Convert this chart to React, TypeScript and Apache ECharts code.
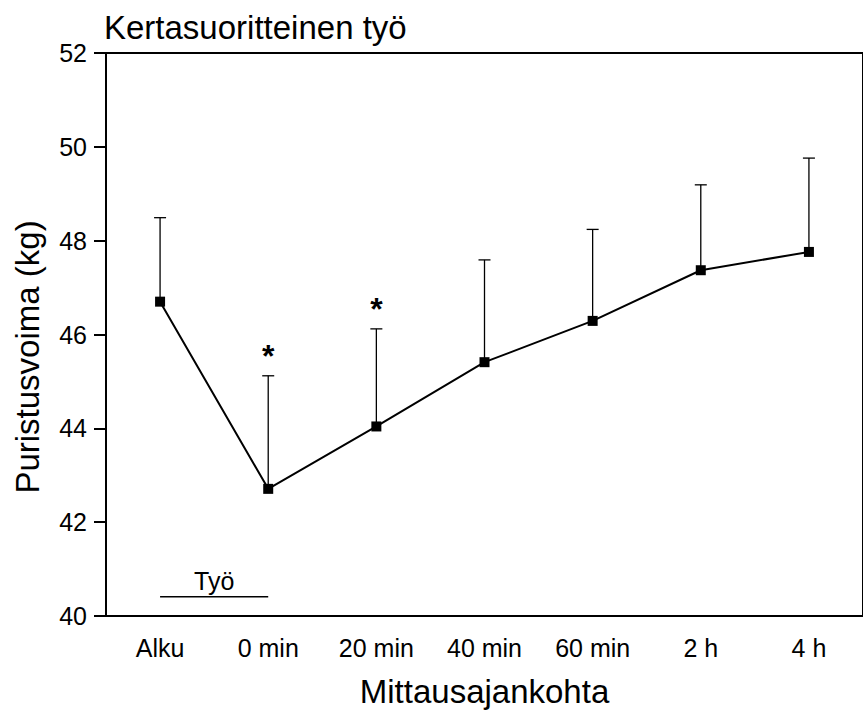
import React, { useEffect, useRef } from "react";
import * as echarts from "echarts";

// Mittausajankohdat ja puristusvoiman keskiarvot (kg) keskihajontoineen
const categories = ["Alku", "0 min", "20 min", "40 min", "60 min", "2 h", "4 h"];
const means = [46.7, 42.71, 44.04, 45.41, 46.29, 47.37, 47.76];
const sds = [1.79, 2.41, 2.08, 2.18, 1.95, 1.82, 2.0];
const significant = [false, true, true, false, false, false, false];

// Työjakso: alkumittauksesta 0 min -mittaukseen
const workLabel = "Työ";
const workSpan = [0, 1];
const workLevel = 40.41;

const yTicks = { min: 40, max: 52, interval: 2 };

const FONT = "'Liberation Sans', Arial, Helvetica, sans-serif";

export default function App() {
  const ref = useRef<HTMLDivElement>(null);

  useEffect(() => {
    if (!ref.current) return;
    const chart = echarts.init(ref.current, null, { renderer: "svg" });

    const errData = means.map((m, i) => [i, m, sds[i], significant[i] ? 1 : 0]);

    chart.setOption({
      animation: false,
      backgroundColor: "#ffffff",
      textStyle: { fontFamily: FONT, color: "#000" },
      grid: {
        left: 106,
        top: 53,
        width: 766,
        height: 564,
        show: true,
        borderColor: "#000",
        borderWidth: 2,
        containLabel: false,
      },
      graphic: [
        {
          type: "text",
          x: 104,
          y: 27,
          style: {
            text: "Kertasuoritteinen työ",
            fontSize: 33,
            fontFamily: FONT,
            fill: "#000",
            align: "left",
            verticalAlign: "middle",
          },
        },
        {
          type: "text",
          x: 27,
          y: 357,
          rotation: Math.PI / 2,
          style: {
            text: "Puristusvoima (kg)",
            fontSize: 33,
            fontFamily: FONT,
            fill: "#000",
            align: "center",
            verticalAlign: "middle",
          },
        },
      ],
      xAxis: {
        type: "category",
        data: categories,
        boundaryGap: true,
        name: "Mittausajankohta",
        nameLocation: "middle",
        nameGap: 59,
        nameTextStyle: { fontSize: 33, fontFamily: FONT, color: "#000" },
        axisLine: { lineStyle: { color: "#000", width: 2 } },
        axisTick: { alignWithLabel: true, length: 11, lineStyle: { color: "#000", width: 2 } },
        axisLabel: { fontSize: 25, fontFamily: FONT, color: "#000", margin: 19 },
        splitLine: { show: false },
      },
      yAxis: {
        type: "value",
        min: yTicks.min,
        max: yTicks.max,
        interval: yTicks.interval,
        axisLine: { show: true, lineStyle: { color: "#000", width: 2 } },
        axisTick: { show: true, length: 12, lineStyle: { color: "#000", width: 2 } },
        axisLabel: { fontSize: 25, fontFamily: FONT, color: "#000", margin: 19 },
        splitLine: { show: false },
      },
      series: [
        {
          type: "custom",
          name: "sd",
          data: errData,
          z: 1,
          encode: { x: 0, y: 1 },
          renderItem: (params: any, api: any) => {
            const i = api.value(0);
            const m = api.value(1);
            const s = api.value(2);
            const star = api.value(3);
            const base = api.coord([i, m]);
            const top = api.coord([i, m + s]);
            const capHalf = 6;
            const children: any[] = [
              {
                type: "line",
                shape: { x1: base[0], y1: base[1], x2: top[0], y2: top[1] },
                style: { stroke: "#000", lineWidth: 1.3 },
              },
              {
                type: "line",
                shape: { x1: top[0] - capHalf, y1: top[1], x2: top[0] + capHalf, y2: top[1] },
                style: { stroke: "#000", lineWidth: 1.3 },
              },
            ];
            if (star) {
              children.push({
                type: "text",
                x: top[0],
                y: top[1] - 20,
                style: {
                  text: "*",
                  fontSize: 32,
                  fontWeight: "bold",
                  fontFamily: FONT,
                  fill: "#000",
                  align: "center",
                  verticalAlign: "middle",
                },
              });
            }
            return { type: "group", children };
          },
        },
        {
          type: "custom",
          name: "work",
          data: [[workSpan[0], workSpan[1], workLevel]],
          z: 1,
          renderItem: (params: any, api: any) => {
            const a = api.coord([api.value(0), api.value(2)]);
            const b = api.coord([api.value(1), api.value(2)]);
            return {
              type: "group",
              children: [
                {
                  type: "line",
                  shape: { x1: a[0], y1: a[1], x2: b[0], y2: b[1] },
                  style: { stroke: "#000", lineWidth: 1.5 },
                },
                {
                  type: "text",
                  x: (a[0] + b[0]) / 2,
                  y: a[1] - 3,
                  style: {
                    text: workLabel,
                    fontSize: 25,
                    fontFamily: FONT,
                    fill: "#000",
                    align: "center",
                    verticalAlign: "bottom",
                  },
                },
              ],
            };
          },
        },
        {
          type: "line",
          name: "Puristusvoima",
          data: means,
          z: 3,
          symbol: "rect",
          symbolSize: 10,
          itemStyle: { color: "#000" },
          lineStyle: { color: "#000", width: 2 },
        },
      ],
    });

    return () => chart.dispose();
  }, []);

  return (
    <div
      ref={ref}
      style={{ position: "fixed", left: 0, top: 0, width: 863, height: 713, background: "#fff" }}
    />
  );
}
